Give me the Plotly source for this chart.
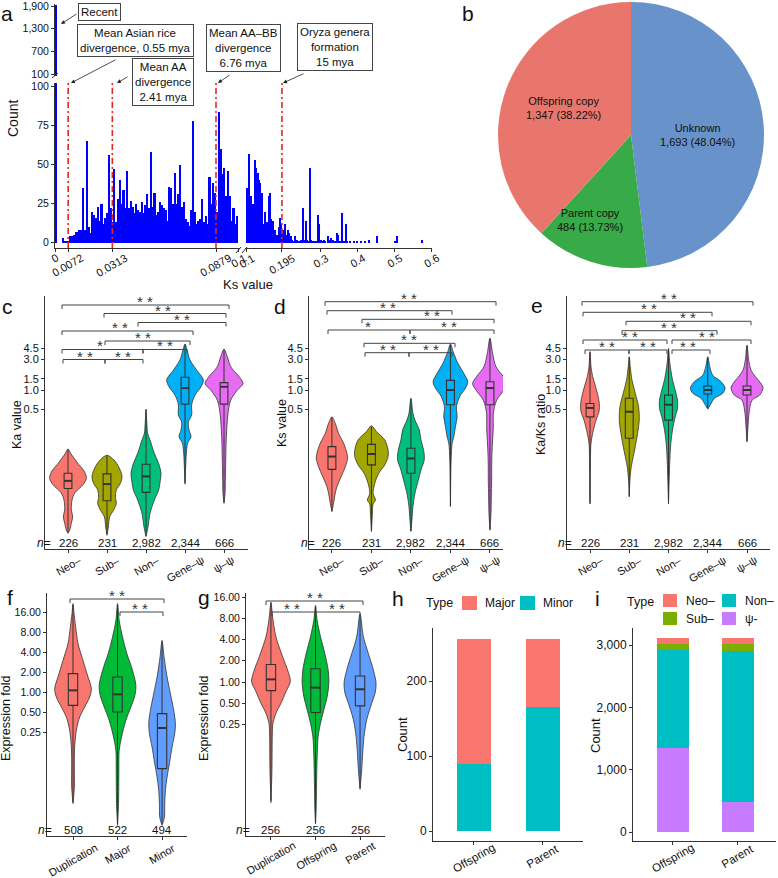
import numpy as np
import plotly.graph_objects as go

W, H = 778, 878
FONT = "Liberation Sans, Arial, Helvetica, sans-serif"
INK = "#111111"
AXC = "#333333"

# ---------------- Panel a: Ks histogram ----------------
left_bin_start = 0.0
left_bin_width = 0.001
left_counts = [1925, 0, 0, 0, 3, 1, 1, 1, 4, 4,
               5, 7, 7, 8, 8, 35, 8, 65, 10, 6,
               20, 18, 16, 23, 14, 25, 12, 16, 19, 56,
               22, 13, 47, 13, 28, 40, 25, 34, 22, 46,
               22, 27, 23, 19, 25, 21, 20, 26, 19, 24,
               31, 22, 58, 23, 32, 18, 20, 26, 24, 22,
               21, 14, 36, 35, 25, 45, 25, 31, 50, 23,
               26, 15, 13, 11, 21, 78, 20, 12, 14, 15,
               28, 13, 17, 12, 42, 25, 38, 32, 20, 84,
               60, 44, 48, 30, 46, 30, 14, 22, 12, 17]
right_ks = [0.1009, 0.1036, 0.1072, 0.1100, 0.1136, 0.1172, 0.1208, 0.1236, 0.1272, 0.1299,
            0.1326, 0.1362, 0.1389, 0.1417, 0.1444, 0.1480, 0.1516, 0.1553, 0.1589, 0.1616,
            0.1643, 0.1679, 0.1716, 0.1752, 0.1788, 0.1824, 0.1861, 0.1897, 0.1933, 0.1969,
            0.2005, 0.2042, 0.2078, 0.2114, 0.2150, 0.2187, 0.2223, 0.2259, 0.2295, 0.2332,
            0.2368, 0.2404, 0.2440, 0.2476, 0.2513, 0.2549, 0.2594, 0.2630, 0.2676, 0.2712,
            0.2748, 0.2793, 0.2839, 0.2893, 0.2938, 0.2966, 0.3002, 0.3038, 0.3083, 0.3129,
            0.3201, 0.3246, 0.3292, 0.3337, 0.3382, 0.3437, 0.3473, 0.3518, 0.3582, 0.3636,
            0.3681, 0.3726, 0.3790, 0.3899, 0.3989, 0.4089, 0.4197, 0.4315, 0.4524, 0.5013,
            0.5067, 0.5755]
right_counts = [35, 20, 57, 30, 20, 25, 53, 48, 40, 45,
                40, 38, 25, 32, 12, 20, 13, 13, 30, 32,
                15, 12, 14, 8, 4, 5, 10, 16, 12, 8,
                4, 12, 5, 8, 6, 4, 2, 1, 4, 1,
                2, 1, 1, 2, 22, 2, 14, 2, 1, 48,
                2, 1, 1, 1, 18, 12, 2, 1, 2, 1,
                4, 2, 3, 2, 1, 6, 5, 1, 19, 1,
                12, 1, 1, 1, 1, 1, 1, 2, 4, 1,
                4, 2]
divergence_ks_left = [0.0072, 0.0313, 0.0879]
divergence_ks_right = [0.195]
a_left_ticks = [0, 0.0072, 0.0313, 0.0879, 0.1]
a_left_ticktext = ["0", "0.0072", "0.0313", "0.0879", "0.1"]
a_right_ticks = [0.1, 0.195, 0.3, 0.4, 0.5, 0.6]
a_right_ticktext = ["0.1", "0.195", "0.3", "0.4", "0.5", "0.6"]
a_top_ticks = [100, 700, 1300, 1900]
a_bottom_ticks = [0, 25, 50, 75, 100]

# ---------------- Panel b: pie ----------------
pie_labels = ["Unknown", "Parent copy", "Offspring copy"]
pie_values = [1693, 484, 1347]
pie_colors = ["#6893CA", "#38AA48", "#E9766C"]

# ---------------- Panels c-e: violins (log10 scale) ----------------
groups5 = ["Neo–", "Sub–", "Non–", "Gene–ψ", "ψ–ψ"]
n5 = ["226", "231", "2,982", "2,344", "666"]
colors5 = ["#F8766D", "#A3A500", "#00BF7D", "#00B0F6", "#E76BF3"]
log_ticks_5 = [0.5, 1.0, 1.5, 3.0, 4.5]
log_ticktext_5 = ["0.5", "1.0", "1.5", "3.0", "4.5"]

ka_log10_levels = [
    [-0.92, -0.99, -1.15, -1.28, -1.38, -1.48, -1.61, -1.72, -1.875, -1.98, -2.08, -2.19, -2.24],
    [-1.02, -1.09, -1.20, -1.35, -1.46, -1.56, -1.67, -1.77, -1.875, -1.98, -2.14, -2.27],
    [-0.30, -0.47, -0.68, -0.78, -0.99, -1.15, -1.30, -1.41, -1.56, -1.72, -1.93, -2.14, -2.29],
    [0.72, 0.625, 0.47, 0.31, 0.16, 0.05, -0.08, -0.23, -0.39, -0.50, -0.625, -0.73, -0.83, -0.99, -1.20, -1.47],
    [0.635, 0.52, 0.365, 0.21, 0.10, 0.0, -0.16, -0.365, -0.625, -0.885, -1.15, -1.41, -1.615, -1.77],
]
ka_density = [
    [0, 8, 30, 50, 55, 45, 20, 12, 10, 14, 10, 5, 0],
    [0, 20, 35, 45, 40, 28, 25, 28, 20, 8, 4, 0],
    [0, 2, 5, 12, 25, 38, 45, 43, 38, 25, 12, 6, 0],
    [0, 6, 15, 35, 55, 48, 30, 20, 20, 10, 12, 18, 8, 4, 2, 0],
    [0, 10, 20, 45, 57, 40, 20, 12, 8, 6, 5, 4, 3, 0],
]
# q1, median, q3, lower whisker, upper whisker (log10)
ka_box = [
    [-1.54, -1.42, -1.30, -2.22, -0.93],
    [-1.73, -1.47, -1.31, -2.25, -1.03],
    [-1.60, -1.35, -1.16, -2.28, -0.31],
    [-0.22, 0.03, 0.20, -1.45, 0.71],
    [-0.22, 0.05, 0.115, -1.76, 0.63],
]

ks_log10_levels = [
    [-0.42, -0.52, -0.68, -0.83, -0.99, -1.07, -1.20, -1.35, -1.51, -1.67, -1.77, -1.90],
    [-0.56, -0.65, -0.78, -0.94, -1.04, -1.17, -1.30, -1.46, -1.615, -1.72, -1.78, -1.93, -2.21],
    [-0.13, -0.365, -0.47, -0.625, -0.78, -0.94, -1.09, -1.25, -1.41, -1.615, -1.82, -2.03, -2.21],
    [0.72, 0.60, 0.42, 0.26, 0.13, 0.03, -0.10, -0.26, -0.42, -0.57, -0.73, -0.83, -1.09, -1.82],
    [0.81, 0.57, 0.365, 0.21, 0.10, 0.0, -0.16, -0.365, -0.57, -0.78, -0.99, -1.20, -1.41, -1.67, -1.93, -2.19],
]
ks_density = [
    [0, 10, 20, 35, 45, 47, 40, 28, 15, 8, 5, 0],
    [0, 15, 40, 50, 50, 40, 22, 10, 5, 12, 5, 3, 0],
    [0, 6, 12, 25, 30, 38, 40, 30, 22, 12, 6, 3, 0],
    [0, 8, 22, 40, 52, 45, 28, 18, 20, 15, 10, 5, 2, 0],
    [0, 8, 18, 40, 52, 42, 20, 10, 10, 8, 6, 5, 5, 4, 3, 0],
]
ks_box = [
    [-1.24, -1.04, -0.885, -1.89, -0.42],
    [-1.17, -1.00, -0.85, -2.20, -0.57],
    [-1.30, -1.07, -0.91, -2.20, -0.14],
    [-0.23, 0.00, 0.15, -1.81, 0.71],
    [-0.23, 0.03, 0.13, -2.18, 0.80],
]

kaks_log10_levels = [
    [0.60, 0.365, 0.21, 0.10, -0.05, -0.21, -0.34, -0.47, -0.68, -0.83, -1.20, -1.78],
    [0.52, 0.365, 0.16, -0.05, -0.26, -0.47, -0.68, -0.885, -1.04, -1.20, -1.41, -1.67],
    [0.65, 0.42, 0.16, 0.0, -0.16, -0.29, -0.42, -0.625, -0.83, -1.09, -1.41, -1.78],
    [0.52, 0.365, 0.23, 0.13, 0.03, -0.05, -0.13, -0.21, -0.30],
    [0.70, 0.47, 0.31, 0.21, 0.10, 0.03, -0.08, -0.16, -0.365, -0.57, -0.81],
]
kaks_density = [
    [0, 3, 8, 14, 22, 28, 27, 18, 8, 3, 1, 0],
    [0, 3, 8, 18, 28, 30, 25, 18, 12, 6, 2, 0],
    [0, 4, 12, 20, 27, 27, 20, 12, 7, 4, 2, 0],
    [0, 6, 15, 40, 52, 45, 20, 10, 0],
    [0, 5, 12, 25, 42, 48, 38, 15, 6, 3, 0],
]
kaks_box = [
    [-0.42, -0.28, -0.21, -1.77, 0.59],
    [-0.755, -0.34, -0.13, -1.66, 0.51],
    [-0.47, -0.23, -0.08, -1.77, 0.64],
    [-0.0625, 0.0, 0.0625, -0.29, 0.51],
    [-0.078, 0.0, 0.0625, -0.80, 0.69],
]

# ---------------- Panels f-g: expression fold (log2 scale) ----------------
colors3 = ["#F8766D", "#00BA38", "#619CFF"]
fold_ticks = [0.25, 0.5, 1, 2, 4, 8, 16]
fold_ticktext = ["0.25", "0.50", "1.00", "2.00", "4.00", "8.00", "16.00"]

f_groups = ["Duplication", "Major", "Minor"]
f_n = ["508", "522", "494"]
f_log2_levels = [
    [4.42, 3.92, 3.25, 2.42, 1.58, 0.75, 0.17, -0.25, -0.75, -1.25, -1.92, -2.75, -3.58, -4.75, -5.58],
    [4.42, 3.58, 2.75, 1.92, 1.08, 0.33, -0.17, -0.75, -1.42, -2.25, -2.92, -3.92, -5.58, -6.67],
    [2.58, 1.75, 0.75, -0.08, -0.92, -1.58, -2.08, -2.75, -3.58, -4.25, -4.92, -5.58, -6.25, -6.67],
]
f_density = [
    [0, 3, 8, 15, 30, 45, 55, 50, 35, 20, 10, 5, 4, 4, 0],
    [0, 5, 15, 28, 45, 55, 52, 40, 25, 12, 5, 4, 3, 0],
    [0, 6, 15, 25, 35, 40, 38, 30, 22, 15, 10, 8, 7, 0],
]
f_box = [
    [-0.667, 0.083, 0.917, -5.5, 4.35],
    [-1.0, -0.117, 0.75, -6.6, 4.35],
    [-3.833, -1.8, -1.083, -6.6, 2.5],
]

g_groups = ["Duplication", "Offspring", "Parent"]
g_n = ["256", "256", "256"]
g_log2_levels = [
    [3.77, 3.06, 2.13, 1.19, 0.56, 0.02, -0.45, -1.0, -1.47, -1.94, -2.56, -4.13, -5.69],
    [3.61, 2.91, 2.13, 1.34, 0.56, -0.06, -0.69, -1.31, -1.94, -2.56, -3.5, -4.91, -6.0, -6.70],
    [3.22, 2.13, 1.34, 0.56, -0.06, -0.53, -1.0, -1.78, -2.56, -3.34, -4.13, -5.06],
]
g_density = [
    [0, 5, 15, 35, 50, 58, 45, 30, 15, 6, 4, 3, 0],
    [0, 5, 15, 28, 38, 40, 35, 25, 15, 8, 5, 3, 2, 0],
    [0, 10, 25, 40, 48, 45, 35, 20, 12, 8, 5, 0],
]
g_box = [
    [-0.406, 0.125, 0.828, -5.6, 3.7],
    [-1.4375, -0.266, 0.625, -6.65, 3.55],
    [-1.125, -0.344, 0.281, -5.0, 3.15],
]

# ---------------- Panel h / i: stacked bars ----------------
copy_types = ["Offspring", "Parent"]
h_minor = [90, 166]
h_major = [166, 90]
h_colors = {"Major": "#F8766D", "Minor": "#00BFC4"}

i_psi = [1347, 484]
i_non = [1572, 2422]
i_sub = [100, 112]
i_neo = [96, 96]
i_colors = {"Neo–": "#F8766D", "Sub–": "#7CAE00", "Non–": "#00BFC4", "ψ-": "#C77CFF"}


# ======================================================================
def X(px):
    return px / W


def Y(py):
    return 1 - py / H


def dx(a, b):
    return [a / W, b / W]


def dy(top, bottom):
    return [1 - bottom / H, 1 - top / H]


def axis(domain, rng, anchor, size=11, **kw):
    d = dict(domain=domain, range=rng, anchor=anchor, showline=True, linecolor=AXC, linewidth=1,
             ticks="outside", ticklen=3, tickwidth=1, tickcolor=AXC, showgrid=False,
             zeroline=False, automargin=False, fixedrange=True, ticklabeloverflow="allow",
             tickfont=dict(size=size, color=INK, family=FONT))
    d.update(kw)
    return d


fig = go.Figure()
shapes = []
annotations = []


def text(x, y, s, size=12, **kw):
    d = dict(x=X(x), y=Y(y), xref="paper", yref="paper", text=s, showarrow=False,
             font=dict(size=size, color=INK, family=FONT), xanchor="center", yanchor="middle")
    d.update(kw)
    annotations.append(d)


def xlabels(xref, vals, texts, top, size=11):
    # rotated category / tick labels centred under their ticks (as in the ggplot original)
    for v, t in zip(vals, texts):
        annotations.append(dict(x=v, y=Y(top), xref=xref, yref="paper", text=t,
                                textangle=-30, xanchor="center", yanchor="top",
                                showarrow=False, font=dict(size=size, color=INK, family=FONT)))


def nlabels(xref, texts, ypx):
    for i, s in enumerate(texts):
        annotations.append(dict(x=i, y=Y(ypx), xref=xref, yref="paper", text=s,
                                showarrow=False, xanchor="center", yanchor="middle",
                                font=dict(size=11.5, color=INK, family=FONT)))


# ---------------- Panel a ----------------
left_centers = left_bin_start + left_bin_width * (np.arange(len(left_counts)) + 0.5)
fig.add_trace(go.Bar(x=left_centers[:1], y=left_counts[:1], width=left_bin_width,
                     marker=dict(color="#0000FF", line=dict(width=0)), xaxis="x", yaxis="y",
                     hoverinfo="skip"))
fig.add_trace(go.Bar(x=left_centers, y=left_counts, width=left_bin_width,
                     marker=dict(color="#0000FF", line=dict(width=0)), xaxis="x2", yaxis="y2",
                     hoverinfo="skip"))
fig.add_trace(go.Bar(x=right_ks, y=right_counts, width=0.0035,
                     marker=dict(color="#0000FF", line=dict(width=0)), xaxis="x3", yaxis="y3",
                     hoverinfo="skip"))

layout_axes = {}
layout_axes["xaxis"] = axis(dx(55, 240), [0, 0.101], "y", visible=False)
layout_axes["yaxis"] = axis(dy(4, 76), [47, 1953], "x", size=10.5, tickvals=a_top_ticks,
                            ticktext=[f"{v:,}" for v in a_top_ticks])
layout_axes["xaxis2"] = axis(dx(55, 240), [0, 0.101], "y2", tickvals=a_left_ticks,
                             showticklabels=False)
layout_axes["yaxis2"] = axis(dy(83, 248), [-3.4, 102.4], "x2", size=10.5,
                             tickvals=a_bottom_ticks)
layout_axes["xaxis3"] = axis(dx(245, 432), [0.0946, 0.6027], "y3", tickvals=a_right_ticks,
                             showticklabels=False)
layout_axes["yaxis3"] = axis(dy(83, 248), [-3.4, 102.4], "x3", visible=False)
xlabels("x2", a_left_ticks, a_left_ticktext, 249, size=11)
xlabels("x3", a_right_ticks, a_right_ticktext, 249, size=11)

for v in divergence_ks_left:
    shapes.append(dict(type="line", xref="x2", yref="y2", x0=v, x1=v, y0=-3.4, y1=102.4,
                       line=dict(color="#E8261E", width=1.6, dash="6px,3px,2px,3px")))
for v in divergence_ks_right:
    shapes.append(dict(type="line", xref="x3", yref="y3", x0=v, x1=v, y0=-3.4, y1=102.4,
                       line=dict(color="#E8261E", width=1.6, dash="6px,3px,2px,3px")))

# axis break marks
for (x0, y0, x1, y1) in [(52, 78, 58, 73), (236, 253, 241, 247), (242, 253, 247, 247)]:
    shapes.append(dict(type="line", xref="paper", yref="paper", x0=X(x0), y0=Y(y0), x1=X(x1),
                       y1=Y(y1), line=dict(color=AXC, width=1)))

boxes_a = [
    (99.5, 12, "Recent"),
    (135.5, 40.5, "Mean Asian rice<br>divergence, 0.55 mya"),
    (163, 82.5, "Mean AA<br>divergence<br>2.41 mya"),
    (243.5, 48, "Mean AA–BB<br>divergence<br>6.76 mya"),
    (334.5, 47.5, "Oryza genera<br>formation<br>15 mya"),
]
for (bx, by, s) in boxes_a:
    text(bx, by, s, size=11.5, bordercolor="#444444", borderwidth=1, borderpad=2,
         bgcolor="white")

arrows_a = [((61, 24), (78, 13)), ((71, 83), (117, 59)), ((117, 83), (129, 76)),
            ((218, 83), (231, 74)), ((283, 83), (305, 73))]
for (hx, hy), (tx, ty) in arrows_a:
    annotations.append(dict(x=X(hx), y=Y(hy), xref="paper", yref="paper", text="",
                            showarrow=True, ax=tx - hx, ay=ty - hy, axref="pixel",
                            ayref="pixel", arrowhead=2, arrowsize=1, arrowwidth=0.8,
                            arrowcolor="#222222"))

text(13, 118, "Count", size=14, textangle=-90)
text(248, 284, "Ks value", size=13)

# ---------------- Panel b ----------------
fig.add_trace(go.Pie(labels=pie_labels, values=pie_values, sort=False, direction="clockwise",
                     rotation=0, textinfo="none", hoverinfo="skip",
                     marker=dict(colors=pie_colors, line=dict(width=0)),
                     domain=dict(x=dx(498, 764), y=dy(2, 268)), showlegend=False))
total = sum(pie_values)
pie_label_pos = {"Unknown": (697, 135), "Parent copy": (590, 220), "Offspring copy": (563, 108)}
for lab, val in zip(pie_labels, pie_values):
    px, py = pie_label_pos[lab]
    text(px, py, f"{lab}<br>{val:,} ({100 * val / total:.2f}%)", size=11)


# ---------------- violin helper ----------------
def violin_panel(xa, ya, levels, dens, boxes, colors, hw_scale, box_w):
    for i in range(len(levels)):
        lv = np.array(levels[i], dtype=float)
        d = np.array(dens[i], dtype=float) * hw_scale
        xs = np.concatenate([i + d, (i - d)[::-1]])
        ys = np.concatenate([lv, lv[::-1]])
        common = dict(xaxis=xa, yaxis=ya, hoverinfo="skip", showlegend=False, mode="lines")
        fig.add_trace(go.Scatter(x=xs, y=ys, fill="toself", fillcolor=colors[i],
                                 line=dict(color="#333333", width=0.8, shape="spline",
                                           smoothing=0.9), **common))
        q1, med, q3, lo, hi = boxes[i]
        hb = box_w / 2
        fig.add_trace(go.Scatter(x=[i, i], y=[lo, hi],
                                 line=dict(color="#333333", width=1), **common))
        fig.add_trace(go.Scatter(x=[i - hb, i + hb, i + hb, i - hb, i - hb],
                                 y=[q1, q1, q3, q3, q1], fill="toself", fillcolor=colors[i],
                                 line=dict(color="#333333", width=1.1), **common))
        fig.add_trace(go.Scatter(x=[i - hb, i + hb], y=[med, med],
                                 line=dict(color="#333333", width=2), **common))


def brackets(items):
    for (x0, x1, yy, s, sx) in items:
        shapes.append(dict(type="path", xref="paper", yref="paper",
                           path=f"M{X(x0)},{Y(yy + 4)} L{X(x0)},{Y(yy)} L{X(x1)},{Y(yy)} "
                                f"L{X(x1)},{Y(yy + 4)}",
                           line=dict(color="#444444", width=1)))
        text(sx, yy - 3.5, s, size=15, font=dict(size=15, color="#333333", family=FONT))


log10_ticks = list(np.log10(log_ticks_5))
dom_cde = dy(296, 549)
rng_cde = [(390 - 549) / 64, (390 - 296) / 64]

# c
violin_panel("x4", "y4", ka_log10_levels, ka_density, ka_box, colors5, 1 / 117, 0.2)
layout_axes["xaxis4"] = axis(dx(45, 248), [-0.59, 4.615], "y4", tickvals=list(range(5)),
                             showticklabels=False)
layout_axes["yaxis4"] = axis(dom_cde, rng_cde, "x4", size=11, tickvals=log10_ticks,
                             ticktext=log_ticktext_5)
# d
violin_panel("x5", "y5", ks_log10_levels, ks_density, ks_box, colors5, 1 / 118.5, 0.2)
layout_axes["xaxis5"] = axis(dx(309, 503), [-0.58, 4.33], "y5", tickvals=list(range(5)),
                             showticklabels=False)
layout_axes["yaxis5"] = axis(dom_cde, rng_cde, "x5", size=11, tickvals=log10_ticks,
                             ticktext=log_ticktext_5)
# e
violin_panel("x6", "y6", kaks_log10_levels, kaks_density, kaks_box, colors5, 1 / 117.75, 0.2)
layout_axes["xaxis6"] = axis(dx(567, 770), [-0.586, 4.586], "y6", tickvals=list(range(5)),
                             showticklabels=False)
layout_axes["yaxis6"] = axis(dom_cde, rng_cde, "x6", size=11, tickvals=log10_ticks,
                             ticktext=log_ticktext_5)
for xa in ["x4", "x5", "x6"]:
    xlabels(xa, list(range(5)), groups5, 551, size=11)

brackets([
    (62, 229, 305, "* *", 145), (104, 226, 313.5, "* *", 163), (138, 226, 322.5, "* *", 182),
    (62, 193, 331, "* *", 120), (105, 190, 341, "* *", 143), (62, 143, 349.5, "*", 100),
    (143, 187, 349.5, "* *", 165), (63, 105, 359.5, "* *", 85), (105, 143, 359.5, "* *", 123),
])
brackets([
    (325, 496, 301.7, "* *", 409), (327, 452, 310.7, "* *", 388), (362, 494, 319.3, "* *", 432),
    (328, 410, 330, "*", 368), (410, 494, 330, "* *", 449), (364, 455, 343.3, "* *", 409),
    (365, 409, 352.7, "* *", 388), (409, 452, 352.7, "* *", 431),
])
brackets([
    (582, 753, 301.7, "* *", 669), (583, 712, 312.3, "* *", 649), (626, 751, 321.3, "* *", 688),
    (622, 717, 330.7, "* *", 669), (583, 667, 340, "* *", 630), (672, 751, 340, "* *", 707),
    (585, 629, 350, "* *", 607), (629, 667, 350, "* *", 648), (672, 710, 350, "* *", 688),
])

for (nx, xa) in [(43.5, "x4"), (307.5, "x5"), (565, "x6")]:
    text(nx, 543, "<i>n</i>=", size=12)
    nlabels(xa, n5, 543)

text(17, 425, "Ka value", size=12.5, textangle=-90)
text(282, 423, "Ks value", size=12.5, textangle=-90)
text(541, 425, "Ka/Ks ratio", size=12.5, textangle=-90)

# ---------------- f / g ----------------
log2_ticks = list(np.log2(fold_ticks))
violin_panel("x7", "y7", f_log2_levels, f_density, f_box, colors3, 1 / 133.5, 0.21)
layout_axes["xaxis7"] = axis(dx(47, 187), [-0.584, 2.56], "y7", tickvals=[0, 1, 2],
                             showticklabels=False)
layout_axes["yaxis7"] = axis(dy(593, 836), [(692 - 836) / 20, (692 - 593) / 20], "x7",
                             size=10.5, tickvals=log2_ticks, ticktext=fold_ticktext)
violin_panel("x8", "y8", g_log2_levels, g_density, g_box, colors3, 1 / 133.5, 0.21)
layout_axes["xaxis8"] = axis(dx(246, 385), [-0.56, 2.56], "y8", tickvals=[0, 1, 2],
                             showticklabels=False)
layout_axes["yaxis8"] = axis(dy(593, 836), [(682 - 836) / 21.2, (682 - 593) / 21.2], "x8",
                             size=10.5, tickvals=log2_ticks, ticktext=fold_ticktext)
xlabels("x7", [0, 1, 2], f_groups, 839, size=11)
xlabels("x8", [0, 1, 2], g_groups, 837, size=11)
brackets([(70, 164, 599, "* *", 117), (120, 163, 612, "* *", 140)])
brackets([(266, 363, 601, "* *", 315), (272, 315, 612, "* *", 292), (315, 360, 612, "* *", 337)])
text(45, 830, "<i>n</i>=", size=12)
nlabels("x7", f_n, 830)
text(243, 830, "<i>n</i>=", size=12)
nlabels("x8", g_n, 830)
text(6, 718, "Expression fold", size=12.5, textangle=-90)
text(204, 718, "Expression fold", size=12.5, textangle=-90)

# ---------------- h ----------------
fig.add_trace(go.Bar(x=[0, 1], y=h_minor, width=0.5, marker=dict(color=h_colors["Minor"],
                     line=dict(width=0)), xaxis="x9", yaxis="y9", name="Minor",
                     hoverinfo="skip", showlegend=False))
fig.add_trace(go.Bar(x=[0, 1], y=h_major, width=0.5, marker=dict(color=h_colors["Major"],
                     line=dict(width=0)), xaxis="x9", yaxis="y9", name="Major",
                     hoverinfo="skip", showlegend=False))
layout_axes["xaxis9"] = axis(dx(433, 583), [-0.594, 1.58], "y9", tickvals=[0, 1],
                             showticklabels=False)
layout_axes["yaxis9"] = axis(dy(628, 841), [-13.3, 270.7], "x9", size=12,
                             tickvals=[0, 100, 200])
xlabels("x9", [0, 1], copy_types, 839, size=11.5)
text(402, 735, "Count", size=13, textangle=-90)
text(439, 603, "Type", size=12.5)
for (sx, lab) in [(462, "Major"), (520, "Minor")]:
    shapes.append(dict(type="rect", xref="paper", yref="paper", x0=X(sx), x1=X(sx + 15),
                       y0=Y(610), y1=Y(596), fillcolor=h_colors[lab], line=dict(width=0)))
    text(sx + 21, 603, lab, size=12, xanchor="left")

# ---------------- i ----------------
for lab, vals in [("ψ-", i_psi), ("Non–", i_non), ("Sub–", i_sub), ("Neo–", i_neo)]:
    fig.add_trace(go.Bar(x=[0, 1], y=vals, width=0.5, marker=dict(color=i_colors[lab],
                         line=dict(width=0)), xaxis="x10", yaxis="y10", name=lab,
                         hoverinfo="skip", showlegend=False))
layout_axes["xaxis10"] = axis(dx(633, 776), [-0.615, 1.585], "y10", tickvals=[0, 1],
                              showticklabels=False)
layout_axes["yaxis10"] = axis(dy(628, 841), [-144, 3274], "x10", size=12,
                              tickvals=[0, 1000, 2000, 3000], tickformat=",")
xlabels("x10", [0, 1], copy_types, 839, size=11.5)
text(595, 736, "Count", size=13, textangle=-90)
text(640, 602, "Type", size=12.5)
for (sx, sy, lab) in [(663, 600.5, "Neo–"), (722, 600.5, "Non–"),
                      (663, 618.5, "Sub–"), (722, 618.5, "ψ-")]:
    shapes.append(dict(type="rect", xref="paper", yref="paper", x0=X(sx), x1=X(sx + 14),
                       y0=Y(sy + 6.5), y1=Y(sy - 6.5), fillcolor=i_colors[lab],
                       line=dict(width=0)))
    text(sx + 21, sy, lab, size=12, xanchor="left")

# ---------------- panel letters ----------------
for (lx, ly, s) in [(7, 13, "a"), (468, 14, "b"), (7, 307, "c"), (280, 307, "d"),
                    (537, 305, "e"), (10, 597, "f"), (204, 597, "g"), (398, 598, "h"),
                    (597, 598, "i")]:
    text(lx, ly, s, size=21)

fig.update_layout(
    template="none",
    width=W, height=H,
    margin=dict(l=0, r=0, t=0, b=0),
    paper_bgcolor="white", plot_bgcolor="rgba(0,0,0,0)",
    showlegend=False, barmode="stack",
    font=dict(family=FONT, color=INK),
    shapes=shapes, annotations=annotations,
    **layout_axes,
)
fig.write_html("out.html", config={"displayModeBar": False},
               post_script="document.body.style.margin='0px';document.body.style.padding='0px';")
